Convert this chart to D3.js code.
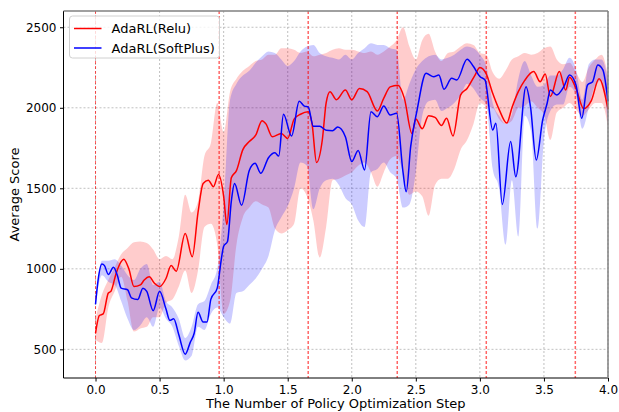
<!DOCTYPE html>
<html>
<head>
<meta charset="utf-8">
<script src="https://cdn.jsdelivr.net/npm/d3@7"></script>
<style>
body { margin: 0; background: #fff; }
text { font-family: "DejaVu Sans", sans-serif; }
</style>
</head>
<body>
<script>
// - data -

// mean curves at the peaks and troughs
var reluX = [0, 0.03, 0.06, 0.1, 0.12, 0.16, 0.2, 0.22, 0.26, 0.3, 0.35, 0.38, 0.42, 0.46, 0.5, 0.55, 0.59, 0.63, 0.7, 0.755, 0.8, 0.84, 0.88, 0.92, 0.96, 1.0, 1.025, 1.06, 1.1, 1.15, 1.2, 1.25, 1.3, 1.33, 1.38, 1.45, 1.5, 1.55, 1.6, 1.66, 1.69, 1.725, 1.77, 1.8, 1.83, 1.88, 1.95, 2.0, 2.06, 2.12, 2.2, 2.25, 2.3, 2.36, 2.41, 2.47, 2.5, 2.55, 2.6, 2.65, 2.7, 2.74, 2.79, 2.85, 2.9, 2.96, 3.0, 3.05, 3.1, 3.15, 3.21, 3.25, 3.3, 3.35, 3.42, 3.47, 3.51, 3.55, 3.62, 3.67, 3.7, 3.75, 3.81, 3.87, 3.93, 4.0];
var reluY = [600, 710, 720, 850, 860, 970, 1045, 1060, 1000, 890, 900, 930, 950, 910, 890, 940, 1020, 985, 1220, 1075, 1350, 1530, 1550, 1510, 1585, 1450, 1275, 1565, 1610, 1740, 1790, 1830, 1920, 1900, 1820, 1840, 1810, 1930, 1960, 1975, 1900, 1660, 1800, 2030, 2100, 2050, 2110, 2050, 2120, 2100, 1980, 2060, 2130, 2140, 2060, 1840, 1930, 1870, 1950, 1940, 1890, 1935, 1825, 2080, 2120, 2200, 2250, 2210, 2090, 1990, 1905, 2000, 2100, 2170, 2225, 2162, 2210, 2070, 2225, 2110, 2190, 2120, 1995, 2045, 2180, 1990];

var softX = [0, 0.02, 0.05, 0.07, 0.1, 0.14, 0.17, 0.2, 0.25, 0.28, 0.33, 0.37, 0.4, 0.45, 0.5, 0.55, 0.58, 0.61, 0.65, 0.7, 0.74, 0.77, 0.8, 0.84, 0.87, 0.9, 0.95, 0.98, 1.0, 1.03, 1.06, 1.085, 1.14, 1.2, 1.245, 1.29, 1.35, 1.4, 1.43, 1.467, 1.53, 1.59, 1.63, 1.66, 1.7, 1.75, 1.8, 1.85, 1.89, 1.95, 2.0, 2.05, 2.1, 2.15, 2.2, 2.25, 2.3, 2.35, 2.4, 2.425, 2.46, 2.51, 2.58, 2.64, 2.68, 2.72, 2.78, 2.82, 2.9, 2.95, 3.0, 3.04, 3.1, 3.125, 3.175, 3.24, 3.28, 3.36, 3.395, 3.44, 3.49, 3.525, 3.55, 3.6, 3.655, 3.7, 3.75, 3.795, 3.84, 3.88, 3.92, 3.96, 4.0];
var softY = [780, 930, 1030, 1020, 965, 1010, 960, 880, 870, 820, 810, 880, 860, 740, 860, 750, 680, 690, 590, 470, 545, 600, 730, 670, 670, 810, 880, 1050, 1140, 1170, 1420, 1530, 1395, 1610, 1655, 1593, 1690, 1720, 1700, 1960, 1825, 2040, 2010, 2005, 1885, 1885, 1860, 1858, 1880, 1820, 1666, 1735, 1614, 1976, 1945, 2011, 1955, 1966, 1600, 1479, 1760, 1986, 2214, 2193, 2204, 2115, 2183, 2173, 2301, 2256, 2194, 2173, 1862, 1904, 1400, 1790, 1572, 2131, 2007, 1676, 1924, 2028, 2111, 2080, 2131, 2204, 2142, 1935, 2142, 2162, 2266, 2235, 2040];

// shaded spread, every 0.05 step
var bandX = d3.range(0, 81).map(function(i) { return i * 0.05; });
var reluUpper = [690, 840, 930, 1010, 1090, 1130, 1165, 1170, 1160, 1120, 1060, 1080, 1060, 1200, 1460, 1350, 1420, 1700, 1780, 2030, 1850, 2100, 2180, 2230, 2260, 2290, 2300, 2330, 2330, 2370, 2370, 2360, 2340, 2350, 2320, 2330, 2340, 2360, 2370, 2360, 2360, 2350, 2340, 2350, 2330, 2350, 2380, 2420, 2500, 2380, 2300, 2420, 2460, 2350, 2290, 2340, 2350, 2380, 2400, 2390, 2340, 2330, 2220, 2180, 2230, 2300, 2320, 2340, 2330, 2340, 2370, 2380, 2300, 2270, 2280, 2220, 2160, 2250, 2300, 2330, 2200];
var reluLower = [560, 540, 760, 860, 950, 800, 610, 630, 640, 700, 700, 790, 810, 890, 990, 850, 990, 1260, 1280, 1150, 720, 800, 1150, 1320, 1380, 1420, 1400, 1380, 1250, 1220, 1240, 1280, 1500, 1450, 1300, 1070, 1260, 1550, 1560, 1580, 1600, 1640, 1660, 1600, 1510, 1600, 1680, 1700, 1600, 1460, 1480, 1450, 1330, 1520, 1560, 1560, 1620, 1740, 1800, 1900, 2030, 2010, 2000, 1930, 1900, 1920, 2000, 2010, 2040, 2000, 1960, 1800, 1970, 2000, 2030, 1990, 1950, 1990, 2030, 2030, 1880];
var softUpper = [800, 1050, 1050, 1060, 1020, 960, 930, 1000, 1030, 900, 920, 800, 760, 690, 570, 640, 780, 800, 900, 1000, 1400, 2050, 2150, 2200, 2230, 2280, 2320, 2350, 2340, 2300, 2260, 2290, 2350, 2380, 2390, 2340, 2320, 2310, 2300, 2330, 2300, 2340, 2370, 2400, 2390, 2390, 2370, 2360, 2050, 2150, 2240, 2290, 2320, 2330, 2300, 2310, 2330, 2360, 2380, 2370, 2330, 2260, 2030, 1950, 1900, 1960, 2180, 2290, 2200, 2130, 2140, 2200, 2200, 2240, 2310, 2240, 2050, 2270, 2300, 2300, 2180];
var softLower = [770, 960, 920, 900, 800, 690, 620, 650, 700, 640, 760, 690, 640, 520, 430, 460, 640, 620, 720, 760, 700, 660, 850, 860, 900, 940, 1000, 1080, 1240, 1320, 1390, 1500, 1660, 1640, 1370, 1500, 1550, 1560, 1520, 1440, 1400, 1300, 1260, 1600, 1620, 1660, 1600, 1560, 1380, 1400, 1600, 1950, 2040, 2050, 1980, 2000, 2030, 2080, 2150, 2120, 2060, 2020, 1620, 1500, 1150, 1550, 1200, 1950, 1850, 1250, 1800, 1980, 2020, 2020, 2130, 2080, 1870, 2000, 2140, 2170, 1900];

var stageLines = [0, 0.965, 1.66, 2.355, 3.05, 3.745];
var xTicks = [0, 0.5, 1, 1.5, 2, 2.5, 3, 3.5, 4];
var yTicks = [500, 1000, 1500, 2000, 2500];

// - global -

var width = 619;
var height = 412;

var margin = { top: 11, left: 63.5, bottom: 34, right: 11 };

var svg = d3.select('body').append('svg')
	.attr('width', width)
	.attr('height', height);

var x = d3.scaleLinear().domain([-0.25, 4.0]).range([margin.left, width - margin.right]);
var y = d3.scaleLinear().domain([322, 2601]).range([height - margin.bottom, margin.top]);

// grid
svg.append('g').selectAll('line').data(xTicks).enter().append('line')
	.attr('x1', function(d) { return x(d); }).attr('x2', function(d) { return x(d); })
	.attr('y1', margin.top).attr('y2', height - margin.bottom)
	.attr('stroke', '#b0b0b0').attr('stroke-width', 0.8).attr('stroke-dasharray', '2,2');
svg.append('g').selectAll('line').data(yTicks).enter().append('line')
	.attr('y1', function(d) { return y(d); }).attr('y2', function(d) { return y(d); })
	.attr('x1', margin.left).attr('x2', width - margin.right)
	.attr('stroke', '#b0b0b0').attr('stroke-width', 0.8).attr('stroke-dasharray', '2,2');

// bands
function band(upper, lower) {
	return d3.area()
		.x(function(d, i) { return x(bandX[i]); })
		.y0(function(d, i) { return y(lower[i]); })
		.y1(function(d, i) { return y(upper[i]); })
		.curve(d3.curveMonotoneX)(upper);
}

svg.append('path').attr('d', band(reluUpper, reluLower)).attr('fill', 'red').attr('fill-opacity', 0.2);
svg.append('path').attr('d', band(softUpper, softLower)).attr('fill', 'blue').attr('fill-opacity', 0.2);

// stage markers
svg.append('g').selectAll('line').data(stageLines).enter().append('line')
	.attr('x1', function(d) { return x(d); }).attr('x2', function(d) { return x(d); })
	.attr('y1', margin.top).attr('y2', height - margin.bottom)
	.attr('stroke', 'red')
	.attr('stroke-opacity', function(d, i) { return i == 0 ? 0.8 : 0.6; })
	.attr('stroke-width', function(d, i) { return i == 0 ? 0.8 : 1.5; })
	.attr('stroke-dasharray', '3,2');

// lines
function curve(xs, ys) {
	return d3.line()
		.x(function(d, i) { return x(xs[i]); })
		.y(function(d) { return y(d); })
		.curve(d3.curveMonotoneX)(ys);
}

svg.append('path').attr('d', curve(reluX, reluY)).attr('fill', 'none').attr('stroke', 'red').attr('stroke-width', 1.5);
svg.append('path').attr('d', curve(softX, softY)).attr('fill', 'none').attr('stroke', 'blue').attr('stroke-width', 1.5);

// axes
var xAxis = svg.append('g')
	.attr('transform', 'translate(0,' + (height - margin.bottom) + ')')
	.call(d3.axisBottom(x).tickValues(xTicks).tickFormat(d3.format('.1f')).tickSizeOuter(0).tickSize(3.5));
var yAxis = svg.append('g')
	.attr('transform', 'translate(' + margin.left + ',0)')
	.call(d3.axisLeft(y).tickValues(yTicks).tickFormat(d3.format('d')).tickSizeOuter(0).tickSize(3.5));

[xAxis, yAxis].forEach(function(a) {
	a.selectAll('text').attr('font-size', 12).attr('fill', '#000').attr('font-family', 'DejaVu Sans');
	a.select('.domain').remove();
	a.selectAll('line').attr('stroke', '#000');
});
xAxis.selectAll('text').attr('dy', '0.71em').attr('y', 7);
yAxis.selectAll('text').attr('x', -7);

// spines
svg.append('line').attr('x1', margin.left).attr('x2', margin.left)
	.attr('y1', margin.top).attr('y2', height - margin.bottom).attr('stroke', '#000').attr('stroke-width', 1);
svg.append('line').attr('x1', margin.left).attr('x2', width - margin.right)
	.attr('y1', height - margin.bottom).attr('y2', height - margin.bottom).attr('stroke', '#000').attr('stroke-width', 1);
svg.append('line').attr('x1', margin.left).attr('x2', width - margin.right)
	.attr('y1', margin.top).attr('y2', margin.top).attr('stroke', '#808080').attr('stroke-width', 1.5);
svg.append('line').attr('x1', width - margin.right).attr('x2', width - margin.right)
	.attr('y1', margin.top).attr('y2', height - margin.bottom).attr('stroke', '#808080').attr('stroke-width', 1.5);

// labels
svg.append('text')
	.attr('x', (margin.left + width - margin.right) / 2)
	.attr('y', 408)
	.attr('text-anchor', 'middle')
	.attr('font-size', 13)
	.text('The Number of Policy Optimization Step');
svg.append('text')
	.attr('transform', 'translate(19,' + ((margin.top + height - margin.bottom) / 2) + ') rotate(-90)')
	.attr('text-anchor', 'middle')
	.attr('font-size', 13)
	.text('Average Score');

// legend
var legend = svg.append('g').attr('transform', 'translate(69.5,16)');
legend.append('rect')
	.attr('width', 150).attr('height', 42).attr('rx', 3)
	.attr('fill', '#fff').attr('fill-opacity', 0.8)
	.attr('stroke', '#d0d0d0');
var legendItems = [{ name: 'AdaRL(Relu)', color: 'red' }, { name: 'AdaRL(SoftPlus)', color: 'blue' }];
legendItems.forEach(function(d, i) {
	legend.append('line').attr('x1', 4.5).attr('x2', 32)
		.attr('y1', 12.5 + i * 19.5).attr('y2', 12.5 + i * 19.5)
		.attr('stroke', d.color).attr('stroke-width', 1.5);
	legend.append('text').attr('x', 42).attr('y', 12.5 + i * 19.5).attr('dy', '0.35em')
		.attr('font-size', 13).text(d.name);
});
</script>
</body>
</html>
